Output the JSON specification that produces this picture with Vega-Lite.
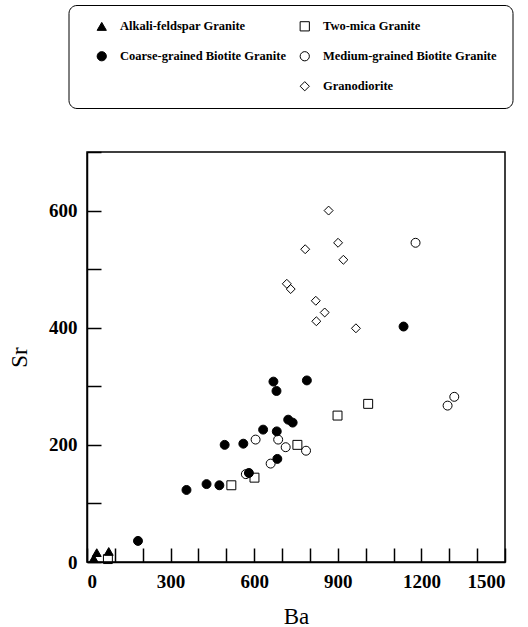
{
  "$schema": "https://vega.github.io/schema/vega-lite/v6.json",
  "width": 418,
  "height": 410,
  "padding": {"left": 8, "top": 4, "right": 5, "bottom": 2},
  "background": "white",
  "data": {
    "values": [
      {"group": "Two-mica Granite", "Ba": 75, "Sr": 5},
      {"group": "Two-mica Granite", "Ba": 518, "Sr": 131},
      {"group": "Two-mica Granite", "Ba": 601, "Sr": 144},
      {"group": "Two-mica Granite", "Ba": 755, "Sr": 200},
      {"group": "Two-mica Granite", "Ba": 899, "Sr": 250},
      {"group": "Two-mica Granite", "Ba": 1009, "Sr": 270},
      {"group": "Medium-grained Biotite Granite", "Ba": 570, "Sr": 150},
      {"group": "Medium-grained Biotite Granite", "Ba": 605, "Sr": 209},
      {"group": "Medium-grained Biotite Granite", "Ba": 686, "Sr": 209},
      {"group": "Medium-grained Biotite Granite", "Ba": 713, "Sr": 196},
      {"group": "Medium-grained Biotite Granite", "Ba": 786, "Sr": 190},
      {"group": "Medium-grained Biotite Granite", "Ba": 659, "Sr": 168},
      {"group": "Medium-grained Biotite Granite", "Ba": 1179, "Sr": 545},
      {"group": "Medium-grained Biotite Granite", "Ba": 1294, "Sr": 267},
      {"group": "Medium-grained Biotite Granite", "Ba": 1318, "Sr": 282},
      {"group": "Granodiorite", "Ba": 867, "Sr": 600},
      {"group": "Granodiorite", "Ba": 783, "Sr": 534},
      {"group": "Granodiorite", "Ba": 901, "Sr": 545},
      {"group": "Granodiorite", "Ba": 920, "Sr": 516},
      {"group": "Granodiorite", "Ba": 717, "Sr": 475},
      {"group": "Granodiorite", "Ba": 731, "Sr": 466},
      {"group": "Granodiorite", "Ba": 821, "Sr": 446},
      {"group": "Granodiorite", "Ba": 853, "Sr": 426},
      {"group": "Granodiorite", "Ba": 823, "Sr": 411},
      {"group": "Granodiorite", "Ba": 965, "Sr": 399},
      {"group": "Coarse-grained Biotite Granite", "Ba": 183, "Sr": 36},
      {"group": "Coarse-grained Biotite Granite", "Ba": 357, "Sr": 123},
      {"group": "Coarse-grained Biotite Granite", "Ba": 429, "Sr": 133},
      {"group": "Coarse-grained Biotite Granite", "Ba": 475, "Sr": 131},
      {"group": "Coarse-grained Biotite Granite", "Ba": 494, "Sr": 200},
      {"group": "Coarse-grained Biotite Granite", "Ba": 561, "Sr": 202},
      {"group": "Coarse-grained Biotite Granite", "Ba": 581, "Sr": 152},
      {"group": "Coarse-grained Biotite Granite", "Ba": 632, "Sr": 226},
      {"group": "Coarse-grained Biotite Granite", "Ba": 681, "Sr": 223},
      {"group": "Coarse-grained Biotite Granite", "Ba": 683, "Sr": 176},
      {"group": "Coarse-grained Biotite Granite", "Ba": 669, "Sr": 308},
      {"group": "Coarse-grained Biotite Granite", "Ba": 680, "Sr": 292},
      {"group": "Coarse-grained Biotite Granite", "Ba": 789, "Sr": 310},
      {"group": "Coarse-grained Biotite Granite", "Ba": 722, "Sr": 243},
      {"group": "Coarse-grained Biotite Granite", "Ba": 738, "Sr": 238},
      {"group": "Coarse-grained Biotite Granite", "Ba": 1136, "Sr": 402},
      {"group": "Alkali-feldspar Granite", "Ba": 24, "Sr": 6},
      {"group": "Alkali-feldspar Granite", "Ba": 35, "Sr": 16},
      {"group": "Alkali-feldspar Granite", "Ba": 78, "Sr": 18}
    ]
  },
  "mark": {"type": "point", "opacity": 1, "strokeWidth": 1, "size": 80},
  "encoding": {
    "x": {
      "field": "Ba", "type": "quantitative",
      "scale": {"domain": [0, 1500], "nice": false, "zero": false},
      "axis": {
        "title": "Ba",
        "values": [0,100,200,300,400,500,600,700,800,900,1000,1100,1200,1300,1400,1500],
        "format": "d",
        "labelExpr": "datum.value % 300 == 0 ? datum.label : ''",
        "tickSize": -14,
        "labelPadding": 24,
        "titlePadding": 14
      }
    },
    "y": {
      "field": "Sr", "type": "quantitative",
      "scale": {"domain": [0, 700], "nice": false, "zero": false},
      "axis": {
        "title": "Sr",
        "values": [0,100,200,300,400,500,600,700],
        "format": "d",
        "labelExpr": "datum.value % 200 == 0 ? datum.label : ''",
        "tickSize": -14,
        "labelPadding": 24,
        "titlePadding": 17
      }
    },
    "shape": {
      "field": "group", "type": "nominal",
      "scale": {
        "domain": ["Alkali-feldspar Granite", "Coarse-grained Biotite Granite", " ", "Two-mica Granite", "Medium-grained Biotite Granite", "Granodiorite"],
        "range": ["triangle-up", "circle", "circle", "square", "circle", "diamond"]
      },
      "legend": {"title": null}
    },
    "fill": {
      "field": "group", "type": "nominal",
      "scale": {
        "domain": ["Alkali-feldspar Granite", "Coarse-grained Biotite Granite", " ", "Two-mica Granite", "Medium-grained Biotite Granite", "Granodiorite"],
        "range": ["black", "black", "transparent", "transparent", "transparent", "transparent"]
      },
      "legend": {"title": null}
    },
    "stroke": {
      "field": "group", "type": "nominal",
      "scale": {
        "domain": ["Alkali-feldspar Granite", "Coarse-grained Biotite Granite", " ", "Two-mica Granite", "Medium-grained Biotite Granite", "Granodiorite"],
        "range": ["black", "black", "transparent", "black", "black", "black"]
      },
      "legend": {"title": null}
    }
  },
  "config": {
    "view": {"stroke": "black", "strokeWidth": 1.5},
    "axis": {
      "grid": false,
      "domainColor": "black",
      "domainWidth": 1.5,
      "tickColor": "black",
      "tickWidth": 1.5,
      "labelFont": "Liberation Serif",
      "labelFontSize": 19,
      "labelFontWeight": "bold",
      "labelColor": "black",
      "titleFont": "Liberation Serif",
      "titleFontSize": 23,
      "titleFontWeight": "normal",
      "titleColor": "black"
    },
    "legend": {
      "orient": "none",
      "legendX": -18.5,
      "legendY": -147,
      "columns": 2,
      "fillColor": "white",
      "strokeColor": "black",
      "cornerRadius": 8,
      "padding": 15,
      "symbolOffset": 12,
      "rowPadding": 16,
      "columnPadding": 0,
      "symbolSize": 85,
      "symbolStrokeWidth": 1,
      "labelFont": "Liberation Serif",
      "labelFontSize": 12.5,
      "labelFontWeight": "bold",
      "labelColor": "black",
      "labelOffset": 12,
      "labelLimit": 300
    }
  }
}
